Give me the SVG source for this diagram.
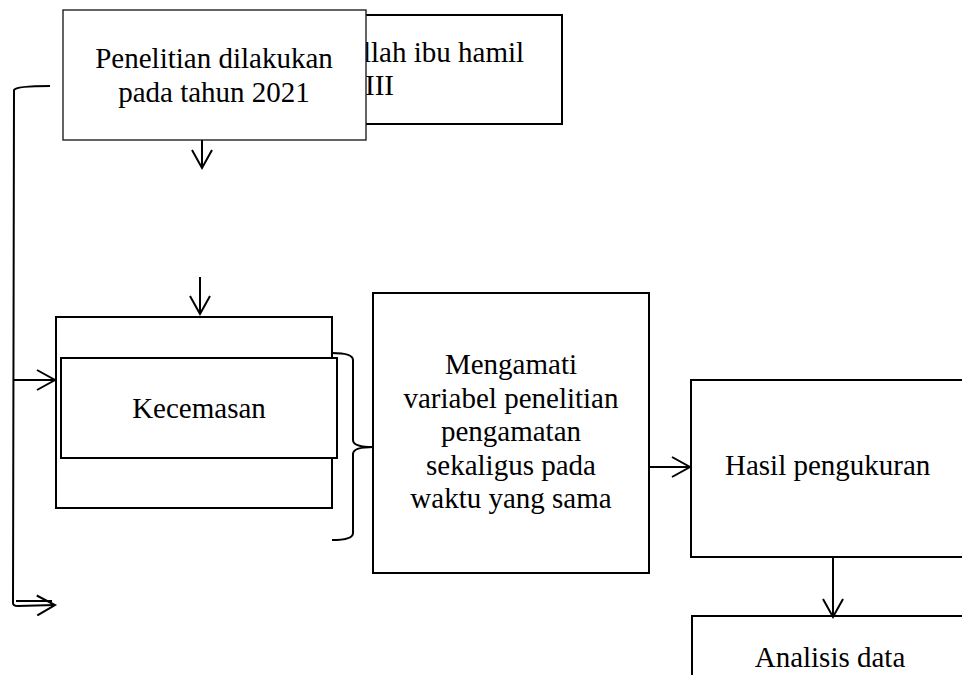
<svg xmlns="http://www.w3.org/2000/svg" width="962" height="675" viewBox="0 0 962 675">
<style>
.box{fill:#fff;stroke:#000;stroke-width:2}
.thin{fill:#fff;stroke:#222;stroke-width:1.4}
.t{font-family:"Liberation Serif","Times New Roman",serif;font-size:29px;fill:#000}
.c{text-anchor:middle}
.ln{fill:none;stroke:#000;stroke-width:2}
</style>
<defs>
<marker id="ah" viewBox="0 0 22 22" refX="19" refY="11" markerWidth="22" markerHeight="22" markerUnits="userSpaceOnUse" orient="auto">
<path d="M1,1 L19,11 L1,21" fill="none" stroke="#000" stroke-width="2"/>
</marker>
</defs>
<g id="subjek">
<rect class="box" x="300" y="15" width="262" height="109"/>
<text class="t" x="363" y="62">llah ibu hamil</text>
<text class="t" x="365" y="95">III</text>
</g>
<g id="penelitian">
<rect class="thin" x="63" y="10" width="303" height="130"/>
<text class="t c" x="214" y="68">Penelitian dilakukan</text>
<text class="t c" x="214" y="102">pada tahun 2021</text>
</g>
<g id="kecemasan">
<rect class="box" x="56" y="317" width="276" height="191"/>
<rect class="box" x="61" y="358" width="276" height="100"/>
<text class="t c" x="199" y="418">Kecemasan</text>
</g>
<g id="mengamati">
<rect class="box" x="373" y="293" width="276" height="280"/>
<text class="t c" x="511" y="374">Mengamati</text>
<text class="t c" x="511" y="408">variabel penelitian</text>
<text class="t c" x="511" y="441">pengamatan</text>
<text class="t c" x="511" y="475">sekaligus pada</text>
<text class="t c" x="511" y="508">waktu yang sama</text>
</g>
<g id="hasil">
<rect class="box" x="691" y="380" width="280" height="177"/>
<text class="t" x="725" y="475">Hasil pengukuran</text>
</g>
<g id="analisis">
<rect class="box" x="692" y="616" width="280" height="70"/>
<text class="t c" x="830" y="667">Analisis data</text>
</g>
<g id="connectors">
<line class="ln" x1="202" y1="140" x2="202" y2="168" marker-end="url(#ah)"/>
<line class="ln" x1="200" y1="277" x2="200" y2="314" marker-end="url(#ah)"/>
<path class="ln" d="M50,86 Q16,86 14,90 L13,603 Q13,606 18,606 L55,605" marker-end="url(#ah)"/>
<line class="ln" x1="16" y1="601" x2="52" y2="601" stroke-width="1.5"/>
<line class="ln" x1="13" y1="380" x2="55" y2="380" marker-end="url(#ah)"/>
<path class="ln" d="M332,353 Q353,353 353,360 L353,440 Q353,447 373,447 Q353,447 353,454 L353,533 Q353,540 332,540"/>
<line class="ln" x1="649" y1="467" x2="690" y2="467" marker-end="url(#ah)"/>
<line class="ln" x1="833" y1="557" x2="833" y2="617" marker-end="url(#ah)"/>
</g>
</svg>
